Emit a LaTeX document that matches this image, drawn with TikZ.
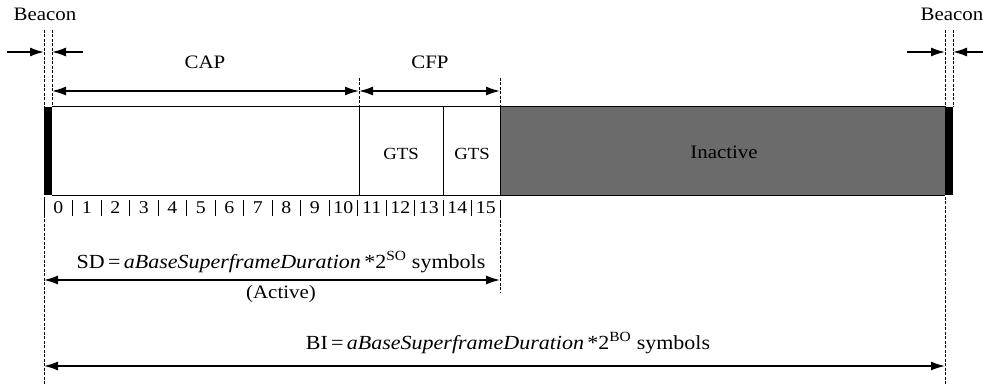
\documentclass[tikz,border=0pt]{standalone}
\usepackage{fontspec}
\setmainfont{Liberation Serif}[FakeStretch=1.1]
\usetikzlibrary{arrows.meta}
\begin{document}
\begin{tikzpicture}[x=1pt,y=-1pt,
  lbl/.style={inner sep=0pt,font=\fontsize{19}{21}\selectfont},
  eqlbl/.style={inner sep=0pt,font=\fontsize{20}{22}\selectfont},
  numlbl/.style={inner sep=0pt,font=\fontsize{18}{20}\selectfont},
  guide/.style={line width=0.9pt,dash pattern=on 3pt off 1.5pt},
  frameline/.style={line width=1pt},
  tip/.tip={Latex[length=14pt,width=9pt]},
  dim/.style={line width=1.5pt,tip-tip},
  onearrow/.style={line width=1.5pt,-tip},
  tick/.style={line width=0.9pt}]
\useasboundingbox (0,0) rectangle (983,385);
% key coordinates
\coordinate (bl1) at (44,107);
\coordinate (bl2) at (52,195);
\coordinate (br1) at (945,107);
\coordinate (br2) at (953,195);
% inactive area
\fill[black!58] (500,107) rectangle (945,195);
\node[lbl] (inact) at (724,152) {Inactive};
% beacon bars
\fill[black] (bl1) rectangle (bl2);
\fill[black] (br1) rectangle (br2);
% frame
\draw[frameline] (52,107) -- (945,107);
\draw[frameline] (52,195) -- (945,195);
\draw[frameline] (359,107) -- (359,195);
\draw[frameline] (443,107) -- (443,195);
\draw[frameline] (500,107) -- (500,195);
% GTS labels
\node[lbl,font=\fontsize{17}{19}\selectfont] (gts1) at (401,154) {GTS};
\node[lbl,font=\fontsize{17}{19}\selectfont] (gts2) at (472,154) {GTS};
% dashed guides
\draw[guide] (44,30) -- (44,385);
\draw[guide] (52,30) -- (52,107);
\draw[guide] (945,30) -- (945,385);
\draw[guide] (953,30) -- (953,107);
\draw[guide] (359,78) -- (359,107);
\draw[guide] (500,78) -- (500,107);
\draw[guide] (500,215) -- (500,292);
% beacon labels and arrows
\node[lbl] (beaconL) at (45,14) {Beacon};
\node[lbl] (beaconR) at (952,14) {Beacon};
\coordinate (la1) at (7,52);
\coordinate (la2) at (44,52);
\coordinate (la3) at (83,52);
\coordinate (la4) at (52,52);
\coordinate (ra1) at (907,52);
\coordinate (ra2) at (945,52);
\coordinate (ra3) at (983,52);
\coordinate (ra4) at (953,52);
\draw[onearrow] (la1) -- (la2);
\draw[onearrow] (la3) -- (la4);
\draw[onearrow] (ra1) -- (ra2);
\draw[onearrow] (ra3) -- (ra4);
% CAP / CFP
\node[lbl] (cap) at (205,62) {CAP};
\node[lbl] (cfp) at (430,62) {CFP};
\coordinate (capL) at (52,91);
\coordinate (capR) at (359,91);
\coordinate (cfpR) at (500,91);
\draw[dim] (capL) -- (capR);
\draw[dim] (capR) -- (cfpR);
% slot numbers
\foreach \i in {0,...,16} {
  \draw[tick] ({44+28.5*\i},200) -- ({44+28.5*\i},216);
}
\foreach \i in {0,...,15} {
  \node[numlbl] (n\i) at ({44+28.5*(\i+0.5)},208) {\i};
}
% SD
\node[eqlbl] (sd) at (281,262) {SD\,=\,\textit{aBaseSuperframeDuration}\,*2\textsuperscript{SO} symbols};
\node[lbl] (active) at (281,294) {(Active)};
\coordinate (sdL) at (44,280);
\coordinate (sdR) at (500,280);
\draw[dim] (sdL) -- (sdR);
% BI
\node[eqlbl] (bi) at (508,343) {BI\,=\,\textit{aBaseSuperframeDuration}\,*2\textsuperscript{BO} symbols};
\coordinate (biL) at (44,366);
\coordinate (biR) at (945,366);
\draw[dim] (biL) -- (biR);
\end{tikzpicture}
\end{document}
